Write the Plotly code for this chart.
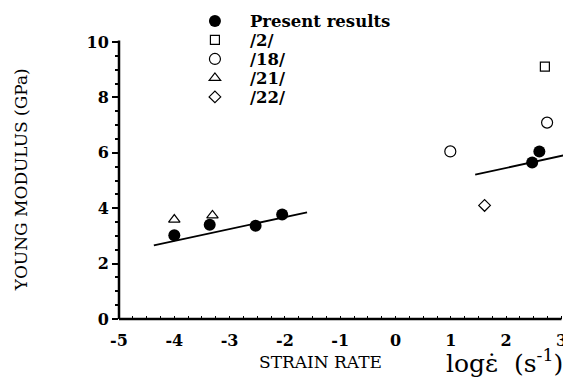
import plotly.graph_objects as go

# ---- data ----
present_x = [-4.0, -3.36, -2.53, -2.05, 2.47, 2.6]
present_y = [3.02, 3.4, 3.37, 3.77, 5.65, 6.05]
ref2_x = [2.70]
ref2_y = [9.11]
ref18_x = [0.99, 2.74]
ref18_y = [6.05, 7.09]
ref21_x = [-4.0, -3.31]
ref21_y = [3.59, 3.74]
ref22_x = [1.61]
ref22_y = [4.1]
fit_left_x = [-4.37, -1.6]
fit_left_y = [2.66, 3.85]
fit_right_x = [1.44, 3.09]
fit_right_y = [5.21, 5.93]
x_ticks = [-5, -4, -3, -2, -1, 0, 1, 2, 3]
x_tick_labels = ["-5", "-4", "-3", "-2", "-1", "0", "1", "2", "3"]
y_ticks = [0, 2, 4, 6, 8, 10]
y_tick_labels = ["0", "2", "4", "6", "8", "10"]
series_names = ["Present results", "/2/", "/18/", "/21/", "/22/"]

SERIF = "DejaVu Serif"
fig = go.Figure()

fig.add_trace(go.Scatter(x=fit_left_x, y=fit_left_y, mode="lines",
                         line=dict(color="black", width=1.8), showlegend=False))
fig.add_trace(go.Scatter(x=fit_right_x, y=fit_right_y, mode="lines",
                         line=dict(color="black", width=1.8), showlegend=False))

series = [
    (present_x, present_y, dict(symbol="circle", size=12, color="black")),
    (ref2_x, ref2_y, dict(symbol="square-open", size=9, color="black", line=dict(width=1.2))),
    (ref18_x, ref18_y, dict(symbol="circle-open", size=11, color="black", line=dict(width=1.2))),
    (ref21_x, ref21_y, dict(symbol="triangle-up-open", size=10, color="black", line=dict(width=1.2))),
    (ref22_x, ref22_y, dict(symbol="diamond-open", size=9, color="black", line=dict(width=1.2))),
]
legend_ids = ["legend", "legend2", "legend3", "legend4", "legend5"]
for (sx, sy, mk), name, lid in zip(series, series_names, legend_ids):
    fig.add_trace(go.Scatter(x=sx, y=sy, mode="markers", name="<b>%s</b>" % name,
                             marker=mk, legend=lid))

legend_layout = {}
for k, lid in enumerate(legend_ids):
    legend_layout[lid] = dict(x=0.136, y=1.138 - k * 0.0685, xanchor="left", yanchor="top",
                              font=dict(family=SERIF, size=16.5),
                              bgcolor="rgba(0,0,0,0)", itemwidth=60)

fig.update_layout(
    width=563, height=369,
    margin=dict(l=111, r=3.5, t=34, b=57.5, autoexpand=False),
    plot_bgcolor="white", paper_bgcolor="white",
    font=dict(family=SERIF, color="black", size=14),
    xaxis=dict(range=[-5, 3.1], tickvals=x_ticks, ticktext=x_tick_labels,
               showgrid=False, zeroline=False,
               showline=False, ticks="outside", ticklen=7, tickcolor="rgba(0,0,0,0)",
               tickfont=dict(family=SERIF, size=16, weight="bold"),
               minor=dict(dtick=0.25, ticks="inside", ticklen=3, tickcolor="black")),
    yaxis=dict(range=[0, 10], tickvals=y_ticks, ticktext=y_tick_labels,
               showgrid=False, zeroline=False,
               showline=False, ticks="outside", ticklen=6, tickcolor="black", tickwidth=1.5,
               tickfont=dict(family=SERIF, size=16, weight="bold"),
               minor=dict(dtick=0.5, ticks="outside", ticklen=3, tickcolor="black")),
    shapes=[
        dict(type="line", xref="paper", yref="paper", x0=0, x1=8 / 8.1, y0=0, y1=0,
             line=dict(color="black", width=2.5)),
        dict(type="line", xref="paper", yref="paper", x0=0, x1=0, y0=0, y1=1.005,
             line=dict(color="black", width=2.5)),
    ],
    annotations=[
        dict(text="YOUNG MODULUS (GPa)", xref="paper", yref="paper", x=-0.2196, y=0.503,
             xanchor="center", yanchor="middle",
             textangle=-90, showarrow=False, font=dict(family=SERIF, size=17)),
        dict(text="STRAIN RATE", xref="paper", yref="paper", x=0.450, y=-0.157,
             xanchor="center", yanchor="middle",
             showarrow=False, font=dict(family=SERIF, size=17)),
        dict(text="log\u03b5\u0307\u00a0\u00a0(s<sup>-1</sup>)", xref="paper", yref="paper",
             x=0.86, y=-0.152, xanchor="center", yanchor="middle",
             showarrow=False, font=dict(family=SERIF, size=25)),
    ],
    **legend_layout,
)

fig.write_html("out.html")
